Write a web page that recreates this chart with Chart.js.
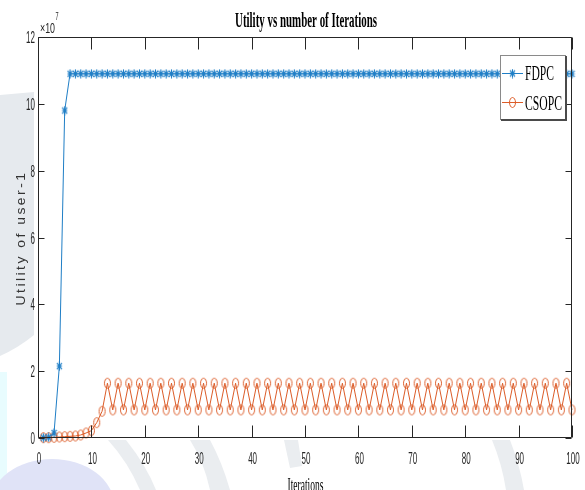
<!DOCTYPE html>
<html>
<head>
<meta charset="utf-8">
<script src="https://cdn.jsdelivr.net/npm/chart.js@4/dist/chart.umd.min.js"></script>
<style>
  html, body { margin: 0; padding: 0; background: #fff; }
  canvas { display: block; }
</style>
</head>
<body>
<canvas id="c" width="585" height="490"></canvas>
<script>
// Iteration index
const iterations = [
  1, 2, 3, 4, 5, 6, 7, 8, 9, 10,
  11, 12, 13, 14, 15, 16, 17, 18, 19, 20,
  21, 22, 23, 24, 25, 26, 27, 28, 29, 30,
  31, 32, 33, 34, 35, 36, 37, 38, 39, 40,
  41, 42, 43, 44, 45, 46, 47, 48, 49, 50,
  51, 52, 53, 54, 55, 56, 57, 58, 59, 60,
  61, 62, 63, 64, 65, 66, 67, 68, 69, 70,
  71, 72, 73, 74, 75, 76, 77, 78, 79, 80,
  81, 82, 83, 84, 85, 86, 87, 88, 89, 90,
  91, 92, 93, 94, 95, 96, 97, 98, 99, 100
];

// Utility of user-1, in units of 10^7
const fdpcUtility = [
  0.01, 0.02, 0.15, 2.15, 9.80, 10.9, 10.9, 10.9, 10.9, 10.9,
  10.9, 10.9, 10.9, 10.9, 10.9, 10.9, 10.9, 10.9, 10.9, 10.9,
  10.9, 10.9, 10.9, 10.9, 10.9, 10.9, 10.9, 10.9, 10.9, 10.9,
  10.9, 10.9, 10.9, 10.9, 10.9, 10.9, 10.9, 10.9, 10.9, 10.9,
  10.9, 10.9, 10.9, 10.9, 10.9, 10.9, 10.9, 10.9, 10.9, 10.9,
  10.9, 10.9, 10.9, 10.9, 10.9, 10.9, 10.9, 10.9, 10.9, 10.9,
  10.9, 10.9, 10.9, 10.9, 10.9, 10.9, 10.9, 10.9, 10.9, 10.9,
  10.9, 10.9, 10.9, 10.9, 10.9, 10.9, 10.9, 10.9, 10.9, 10.9,
  10.9, 10.9, 10.9, 10.9, 10.9, 10.9, 10.9, 10.9, 10.9, 10.9,
  10.9, 10.9, 10.9, 10.9, 10.9, 10.9, 10.9, 10.9, 10.9, 10.9
];

const csopcUtility = [
  0.01, 0.01, 0.02, 0.03, 0.04, 0.05, 0.06, 0.09, 0.15, 0.22,
  0.46, 0.80, 1.64, 0.84, 1.64, 0.84, 1.64, 0.84, 1.64, 0.84,
  1.64, 0.84, 1.64, 0.84, 1.64, 0.84, 1.64, 0.84, 1.64, 0.84,
  1.64, 0.84, 1.64, 0.84, 1.64, 0.84, 1.64, 0.84, 1.64, 0.84,
  1.64, 0.84, 1.64, 0.84, 1.64, 0.84, 1.64, 0.84, 1.64, 0.84,
  1.64, 0.84, 1.64, 0.84, 1.64, 0.84, 1.64, 0.84, 1.64, 0.84,
  1.64, 0.84, 1.64, 0.84, 1.64, 0.84, 1.64, 0.84, 1.64, 0.84,
  1.64, 0.84, 1.64, 0.84, 1.64, 0.84, 1.64, 0.84, 1.64, 0.84,
  1.64, 0.84, 1.64, 0.84, 1.64, 0.84, 1.64, 0.84, 1.64, 0.84,
  1.64, 0.84, 1.64, 0.84, 1.64, 0.84, 1.64, 0.84, 1.64, 0.84
];

const seriesNames = ['FDPC', 'CSOPC'];
const xTickValues = [0, 10, 20, 30, 40, 50, 60, 70, 80, 90, 100];
const xTickLabels = ['0', '10', '20', '30', '40', '50', '60', '70', '80', '90', '100'];
const yTickValues = [0, 2, 4, 6, 8, 10, 12];
const yTickLabels = ['0', '2', '4', '6', '8', '10', '12'];

const BLUE = '#1f7ec6';
const ORANGE = '#dc5c28';
const AXIS = '#262626';

// Marker sprites: asterisk and open ellipse, narrow like the rest of the figure
function makeStar() {
  const c = document.createElement('canvas');
  c.width = 7; c.height = 10;
  const g = c.getContext('2d');
  g.strokeStyle = BLUE; g.lineWidth = 1.1;
  g.beginPath();
  g.moveTo(3.5, 0.5); g.lineTo(3.5, 9.5);
  g.moveTo(0.8, 5); g.lineTo(6.2, 5);
  g.moveTo(1, 1.8); g.lineTo(6, 8.2);
  g.moveTo(6, 1.8); g.lineTo(1, 8.2);
  g.stroke();
  return c;
}
function makeRing() {
  const c = document.createElement('canvas');
  c.width = 9; c.height = 13;
  const g = c.getContext('2d');
  g.strokeStyle = ORANGE; g.lineWidth = 1;
  g.beginPath();
  g.ellipse(4.5, 6.5, 3, 5, 0, 0, Math.PI * 2);
  g.stroke();
  return c;
}
const starMarker = makeStar();
const ringMarker = makeRing();

function toPoints(xs, ys) {
  return xs.map((x, i) => ({ x: x, y: ys[i] }));
}

// Text drawn with a horizontal squeeze
function squeezeFit(ctx, text, x, y, font, width, align) {
  ctx.save();
  ctx.font = font;
  const sx = width / ctx.measureText(text).width;
  ctx.translate(x, y);
  ctx.scale(sx, 1);
  ctx.textAlign = align;
  ctx.textBaseline = 'alphabetic';
  ctx.fillText(text, 0, 0);
  ctx.restore();
}
function squeeze(ctx, text, x, y, font, sx, align) {
  ctx.save();
  ctx.font = font;
  ctx.translate(x, y);
  ctx.scale(sx, 1);
  ctx.textAlign = align;
  ctx.textBaseline = 'alphabetic';
  ctx.fillText(text, 0, 0);
  ctx.restore();
}

function drawWatermark(ctx) {
  ctx.save();
  // grey band down the left margin
  ctx.fillStyle = '#e6eaee';
  ctx.beginPath();
  ctx.moveTo(0, 95); ctx.lineTo(34, 92); ctx.lineTo(34, 335);
  ctx.quadraticCurveTo(18, 348, 0, 356); ctx.closePath();
  ctx.fill();
  // pale cyan strip at the lower left edge
  ctx.fillStyle = '#e8fcfe';
  ctx.fillRect(0, 372, 7, 118);
  // lavender disc at the bottom left
  ctx.fillStyle = '#e0e3f7';
  ctx.beginPath();
  ctx.ellipse(52, 505, 62, 46, 0, 0, Math.PI * 2);
  ctx.fill();
  // grey swooshes below the axis
  ctx.fillStyle = '#eaedf0';
  ctx.beginPath();
  ctx.moveTo(108, 440); ctx.lineTo(126, 440);
  ctx.quadraticCurveTo(146, 465, 156, 490); ctx.lineTo(140, 490);
  ctx.quadraticCurveTo(128, 462, 108, 440); ctx.fill();
  ctx.beginPath();
  ctx.moveTo(190, 440); ctx.lineTo(210, 440);
  ctx.quadraticCurveTo(222, 462, 230, 490); ctx.lineTo(210, 490);
  ctx.quadraticCurveTo(204, 462, 190, 440); ctx.fill();
  ctx.beginPath();
  ctx.moveTo(284, 440); ctx.lineTo(298, 440);
  ctx.lineTo(302, 466); ctx.lineTo(290, 468); ctx.closePath(); ctx.fill();
  ctx.beginPath();
  ctx.moveTo(492, 440); ctx.lineTo(510, 440);
  ctx.quadraticCurveTo(520, 466, 524, 490); ctx.lineTo(506, 490);
  ctx.quadraticCurveTo(502, 464, 492, 440); ctx.fill();
  ctx.restore();
}

const figurePlugin = {
  id: 'figure',
  beforeDraw(chart) {
    const { ctx, chartArea: a } = chart;
    ctx.save();
    ctx.fillStyle = '#fff';
    ctx.fillRect(0, 0, chart.width, chart.height);
    drawWatermark(ctx);
    ctx.fillStyle = '#fff';
    ctx.fillRect(a.left, a.top, a.right - a.left, a.bottom - a.top);
    ctx.restore();
  },
  afterDatasetsDraw(chart) {
    const { ctx, chartArea: a } = chart;
    const xs = chart.scales.x, ys = chart.scales.y;
    const L = a.left + 0.5, R = a.right - 0.5, T = a.top + 0.5, B = a.bottom - 0.5;

    ctx.save();
    // axes box
    ctx.strokeStyle = AXIS;
    ctx.lineWidth = 1;
    ctx.beginPath();
    ctx.moveTo(L, T); ctx.lineTo(R, T); ctx.lineTo(R, B); ctx.lineTo(L, B); ctx.closePath();
    ctx.stroke();

    // inward ticks on all four sides
    ctx.beginPath();
    xTickValues.forEach(v => {
      const px = Math.round(xs.getPixelForValue(v)) + 0.5;
      ctx.moveTo(px, B); ctx.lineTo(px, B - 12);
      ctx.moveTo(px, T); ctx.lineTo(px, T + 12);
    });
    yTickValues.forEach(v => {
      const py = Math.round(ys.getPixelForValue(v)) + 0.5;
      ctx.moveTo(L, py); ctx.lineTo(L + 6, py);
      ctx.moveTo(R, py); ctx.lineTo(R - 6, py);
    });
    ctx.stroke();

    // tick labels
    ctx.fillStyle = AXIS;
    const tickFont = '16px "Liberation Sans", Arial, sans-serif';
    xTickValues.forEach((v, i) => {
      squeeze(ctx, xTickLabels[i], xs.getPixelForValue(v) + 1, 464, tickFont, 0.5, 'center');
    });
    yTickValues.forEach((v, i) => {
      squeeze(ctx, yTickLabels[i], 35, ys.getPixelForValue(v) + 6, tickFont, 0.5, 'right');
    });

    // exponent note
    squeezeFit(ctx, '\u00d710', 40, 32.5, '14px "Liberation Sans", Arial, sans-serif', 15, 'left');
    squeeze(ctx, '7', 55.5, 19.5, '10px "Liberation Sans", Arial, sans-serif', 0.55, 'left');

    // title and x-axis label
    ctx.fillStyle = '#000';
    squeezeFit(ctx, 'Utility vs number of Iterations', 306, 27,
      'bold 22px "Liberation Serif", "Times New Roman", serif', 142, 'center');
    squeezeFit(ctx, 'Iterations', 305.5, 491,
      '19px "Liberation Serif", "Times New Roman", serif', 36, 'center');

    // y-axis label, rotated and letter-spaced
    ctx.save();
    ctx.fillStyle = '#333';
    ctx.font = '14px "Liberation Sans", Arial, sans-serif';
    ctx.letterSpacing = '2.5px';
    const yLabel = 'Utility of user-1';
    const along = 135 / ctx.measureText(yLabel).width;
    ctx.translate(25, 238);
    ctx.rotate(-Math.PI / 2);
    ctx.scale(along, 0.95);
    ctx.textAlign = 'center';
    ctx.textBaseline = 'alphabetic';
    ctx.fillText(yLabel, 0, 0);
    ctx.restore();

    // legend
    const lx = 500, ly = 55, lw = 66, lh = 65;
    ctx.fillStyle = '#fff';
    ctx.fillRect(lx, ly, lw, lh);
    ctx.strokeStyle = '#8a8a8a';
    ctx.lineWidth = 1;
    ctx.strokeRect(lx + 0.5, ly + 0.5, lw - 1, lh - 1);
    ctx.strokeStyle = '#4a4a4a';
    ctx.lineWidth = 2;
    ctx.beginPath();
    ctx.moveTo(lx + 1, ly + lh); ctx.lineTo(lx + lw, ly + lh); ctx.lineTo(lx + lw, ly + 1);
    ctx.stroke();

    const rows = [
      { y: 73, color: BLUE, marker: starMarker, name: seriesNames[0], w: 29, base: 80 },
      { y: 102, color: ORANGE, marker: ringMarker, name: seriesNames[1], w: 37, base: 110 }
    ];
    rows.forEach(r => {
      ctx.strokeStyle = r.color;
      ctx.lineWidth = 1;
      ctx.beginPath();
      ctx.moveTo(502, r.y + 0.5); ctx.lineTo(523, r.y + 0.5);
      ctx.stroke();
      ctx.drawImage(r.marker, 512.5 - r.marker.width / 2, r.y + 0.5 - r.marker.height / 2);
      ctx.fillStyle = '#000';
      squeezeFit(ctx, r.name, 525, r.base, '21px "Liberation Serif", "Times New Roman", serif', r.w, 'left');
    });
    ctx.restore();
  }
};

new Chart(document.getElementById('c'), {
  type: 'line',
  data: {
    datasets: [
      {
        label: seriesNames[0],
        data: toPoints(iterations, fdpcUtility),
        borderColor: BLUE,
        borderWidth: 1,
        pointStyle: starMarker,
        pointRadius: 3,
        tension: 0,
        fill: false,
        clip: false
      },
      {
        label: seriesNames[1],
        data: toPoints(iterations, csopcUtility),
        borderColor: ORANGE,
        borderWidth: 1,
        pointStyle: ringMarker,
        pointRadius: 3,
        tension: 0,
        fill: false,
        clip: false
      }
    ]
  },
  options: {
    responsive: false,
    devicePixelRatio: 1,
    animation: false,
    events: [],
    layout: { padding: { left: 38, right: 13, top: 37, bottom: 52 } },
    plugins: {
      legend: { display: false },
      title: { display: false },
      tooltip: { enabled: false }
    },
    scales: {
      x: { type: 'linear', min: 0, max: 100, display: false },
      y: { type: 'linear', min: 0, max: 12, display: false }
    }
  },
  plugins: [figurePlugin]
});
</script>
</body>
</html>
